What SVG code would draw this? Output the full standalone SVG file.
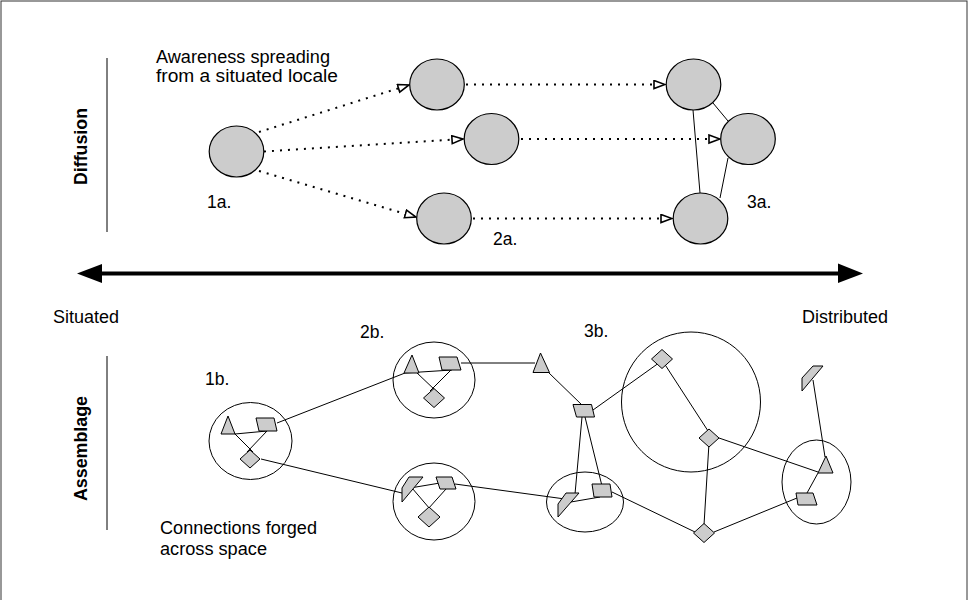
<svg xmlns="http://www.w3.org/2000/svg" width="975" height="600" viewBox="0 0 975 600">
<defs>
<style>
.t{font-family:"Liberation Sans",Arial,sans-serif;font-size:17.5px;fill:#000}
.b{font-family:"Liberation Sans",Arial,sans-serif;font-size:18px;font-weight:bold;fill:#000}
.c{fill:#cccccc;stroke:#000;stroke-width:1.2}
.s{fill:#cccccc;stroke:#000;stroke-width:1}
.ring{fill:none;stroke:#000;stroke-width:1}
.ln{fill:none;stroke:#000;stroke-width:1}
.dot{fill:none;stroke:#000;stroke-width:2;stroke-dasharray:2 6}
</style>
<marker id="open" markerUnits="userSpaceOnUse" markerWidth="14" markerHeight="12" refX="12" refY="5" orient="auto">
<path d="M1,1 L12,5 L1,9 z" fill="#fff" stroke="#000" stroke-width="1.6"/>
</marker>
</defs>
<rect x="0" y="0" width="975" height="600" fill="#fff"/>
<rect x="1" y="1" width="966" height="610" fill="none" stroke="#333" stroke-width="1"/>

<!-- side labels -->
<g id="diffusion-label">
<line x1="107" y1="58" x2="107" y2="232" class="ln"/>
<text class="b" transform="translate(87,146.5) rotate(-90)" text-anchor="middle" textLength="77" lengthAdjust="spacingAndGlyphs">Diffusion</text>
</g>
<g id="assemblage-label">
<line x1="107" y1="356" x2="107" y2="530" class="ln"/>
<text class="b" transform="translate(87,448.5) rotate(-90)" text-anchor="middle" textLength="105" lengthAdjust="spacingAndGlyphs">Assemblage</text>
</g>

<!-- connectors -->
<g id="connectors">
<line class="dot" x1="259" y1="132" x2="409" y2="85" marker-end="url(#open)"/>
<line class="dot" x1="264" y1="151.5" x2="463" y2="139" marker-end="url(#open)"/>
<line class="dot" x1="259" y1="171" x2="416" y2="217" marker-end="url(#open)"/>
<line class="dot" x1="466" y1="84.5" x2="665" y2="84.5" marker-end="url(#open)"/>
<line class="dot" x1="521" y1="139" x2="720" y2="139" marker-end="url(#open)"/>
<line class="dot" x1="473" y1="218.5" x2="672" y2="218.5" marker-end="url(#open)"/>
<line class="ln" x1="693" y1="110" x2="700" y2="193"/>
<line class="ln" x1="713" y1="103" x2="728" y2="121"/>
<line class="ln" x1="728" y1="158" x2="720" y2="198"/>

<line x1="98" y1="273.5" x2="842" y2="273.5" stroke="#000" stroke-width="4"/>
<polygon points="77,273.5 102,264 102,283" fill="#000"/>
<polygon points="863,273.5 838,263.5 838,283" fill="#000"/>

<line class="ln" x1="277" y1="423" x2="405" y2="373"/>
<line class="ln" x1="261" y1="459" x2="402" y2="493"/>
<line class="ln" x1="461" y1="363" x2="535" y2="363"/>
<line class="ln" x1="455" y1="484" x2="565" y2="499"/>
<line class="ln" x1="548" y1="372" x2="582" y2="405"/>
<line class="ln" x1="593" y1="410" x2="663" y2="360"/>
<line class="ln" x1="662" y1="360" x2="710" y2="434"/>
<line class="ln" x1="719" y1="438" x2="818" y2="472"/>
<line class="ln" x1="709" y1="443" x2="704" y2="525"/>
<line class="ln" x1="612" y1="492" x2="695" y2="532"/>
<line class="ln" x1="714" y1="532" x2="797" y2="498"/>
<line class="ln" x1="582" y1="417" x2="575" y2="494"/>
<line class="ln" x1="585" y1="417" x2="602" y2="486"/>
<line class="ln" x1="813" y1="380" x2="825" y2="457"/>
<line class="ln" x1="818" y1="473" x2="807" y2="493"/>
</g>

<!-- top nodes -->
<g id="n1a"><ellipse class="c" cx="236.5" cy="151.5" rx="27.3" ry="25.5"/></g>
<g id="n2a-top"><ellipse class="c" cx="437" cy="84.5" rx="27.3" ry="25.5"/></g>
<g id="n2a-mid"><ellipse class="c" cx="491.5" cy="139" rx="27.3" ry="25.5"/></g>
<g id="n2a-bot"><ellipse class="c" cx="444" cy="218.5" rx="27.3" ry="25.5"/></g>
<g id="n3a-top"><ellipse class="c" cx="693.5" cy="84.5" rx="27.3" ry="25.5"/></g>
<g id="n3a-mid"><ellipse class="c" cx="748" cy="139" rx="27.3" ry="25.5"/></g>
<g id="n3a-bot"><ellipse class="c" cx="700.5" cy="218.5" rx="27.3" ry="25.5"/></g>

<!-- cluster 1b -->
<g id="c1b">
<ellipse class="ring" cx="250.5" cy="441" rx="41.5" ry="38.5"/>
<line class="ln" x1="235" y1="434" x2="267" y2="431"/>
<line class="ln" x1="233" y1="432" x2="253" y2="452"/>
<line class="ln" x1="267" y1="431" x2="247" y2="452"/>
<polygon class="s" points="221,434 228,416 235,434"/>
<polygon class="s" points="256,418 274,418 277,431 259,431"/>
<polygon class="s" points="250,450 260,459 250,468 240,459"/>
</g>

<!-- cluster 2b upper -->
<g id="c2b-upper">
<ellipse class="ring" cx="434" cy="380" rx="41" ry="38"/>
<line class="ln" x1="405" y1="373" x2="452" y2="370"/>
<line class="ln" x1="416" y1="372" x2="436" y2="391"/>
<line class="ln" x1="451" y1="370" x2="430" y2="391"/>
<polygon class="s" points="404,373 412,355 419,373"/>
<polygon class="s" points="439,357 457,357 461,370 442,370"/>
<polygon class="s" points="434,388.5 444.5,398 434,407.5 423.5,398"/>
</g>

<!-- cluster 2b lower -->
<g id="c2b-lower">
<ellipse class="ring" cx="434" cy="501.5" rx="41" ry="38.5"/>
<line class="ln" x1="410" y1="488" x2="440" y2="483"/>
<line class="ln" x1="412" y1="488" x2="430" y2="509"/>
<line class="ln" x1="446" y1="489" x2="428" y2="509"/>
<polygon class="s" points="409,477 423,477 402,502 402,488"/>
<polygon class="s" points="436,477 452,477 456,489 440,489"/>
<polygon class="s" points="429,507 440,517 429,527 418,517"/>
</g>

<!-- cluster 3b -->
<g id="c3b-tri"><polygon class="s" points="533,372.5 540.5,353 549.5,372.5"/></g>
<g id="c3b-para"><polygon class="s" points="573,404.5 591.5,404.5 594.5,417 576.5,417"/></g>
<g id="c3b-lower">
<ellipse class="ring" cx="585" cy="502" rx="38.5" ry="30"/>
<line class="ln" x1="565" y1="503" x2="600" y2="497"/>
<polygon class="s" points="566,493 579,493 558,517 558,504"/>
<polygon class="s" points="592,484 610,484 612,497 594,497"/>
</g>

<!-- big circle cluster -->
<g id="c-big">
<ellipse class="ring" cx="691" cy="402" rx="69.5" ry="70"/>
<polygon class="s" points="662,349.5 672.5,359 662,368.5 651.5,359"/>
<polygon class="s" points="709,429 719,438 709,447 699,438"/>
</g>
<g id="d-bottom"><polygon class="s" points="704,523.5 714.5,533 704,542.5 693.5,533"/></g>

<!-- right cluster -->
<g id="c-right-top"><polygon class="s" points="813,366 823,366 802,391 802,378"/></g>
<g id="c-right">
<ellipse class="ring" cx="816.5" cy="482" rx="34.5" ry="42"/>
<polygon class="s" points="818,473 826,456 833,473"/>
<polygon class="s" points="796,493 813,493 817,505 798,505"/>
</g>

<!-- texts -->
<g id="labels">
<text class="t" x="156" y="63" textLength="174" lengthAdjust="spacingAndGlyphs">Awareness spreading</text>
<text class="t" x="156" y="82" textLength="182" lengthAdjust="spacingAndGlyphs">from a situated locale</text>
<text class="t" x="207" y="208">1a.</text>
<text class="t" x="493" y="245">2a.</text>
<text class="t" x="747" y="208">3a.</text>
<text class="t" x="53" y="323" textLength="66" lengthAdjust="spacingAndGlyphs">Situated</text>
<text class="t" x="802" y="323" textLength="86" lengthAdjust="spacingAndGlyphs">Distributed</text>
<text class="t" x="205" y="385">1b.</text>
<text class="t" x="360" y="338">2b.</text>
<text class="t" x="584" y="337">3b.</text>
<text class="t" x="160" y="534" textLength="157" lengthAdjust="spacingAndGlyphs">Connections forged</text>
<text class="t" x="160" y="555" textLength="107" lengthAdjust="spacingAndGlyphs">across space</text>
</g>
</svg>
